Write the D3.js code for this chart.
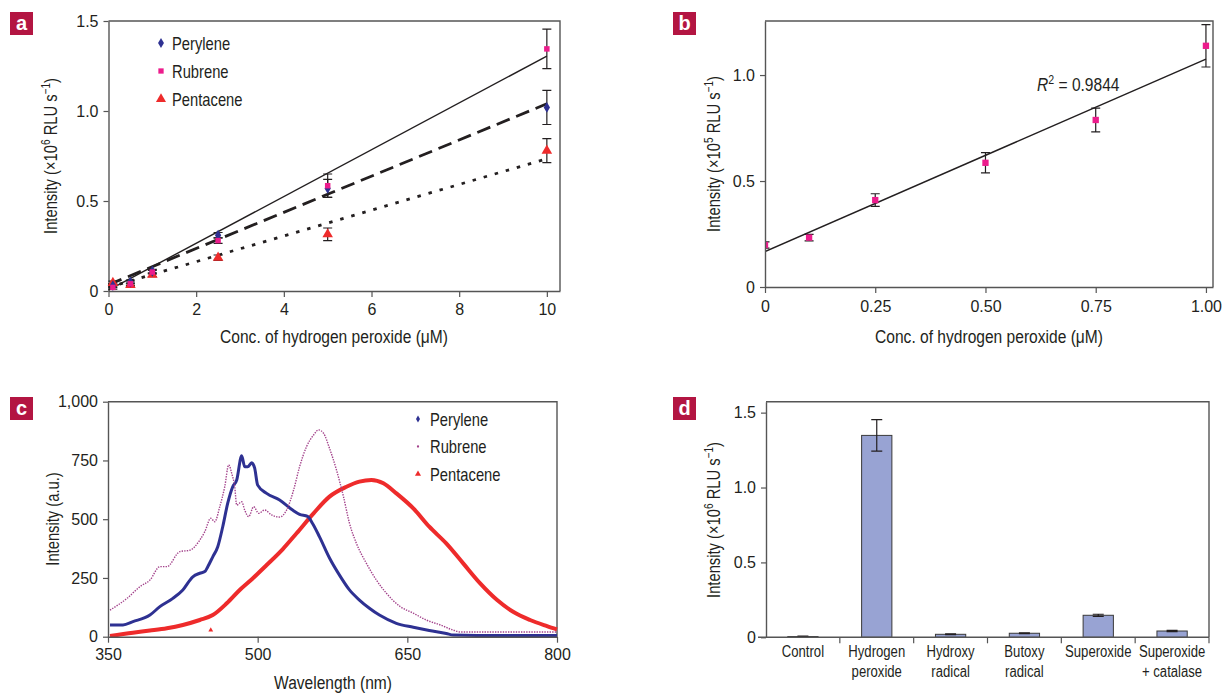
<!DOCTYPE html>
<html>
<head>
<meta charset="utf-8">
<script src="https://cdn.jsdelivr.net/npm/d3@7"></script>
<style>
body { margin: 0; background: #fff; }
text { fill: #231f20; font-family: "Liberation Sans", Arial, sans-serif; }
</style>
</head>
<body>
<div id="chart"></div>
<script>
// ---------- panel a : intensity vs H2O2 ----------
var concA = [0.1, 0.5, 1, 2.5, 5, 10];
var peryleneA = [0.03, 0.05, 0.11, 0.31, 0.57, 1.02];
var rubreneA = [0.02, 0.04, 0.105, 0.28, 0.585, 1.345];
var pentaceneA = [0.045, 0.033, 0.09, 0.185, 0.315, 0.78];
var peryleneErrA = [0.01, 0.01, 0.01, 0.015, 0.05, 0.095];
var rubreneErrA = [0.01, 0.01, 0.01, 0.015, 0.065, 0.11];
var pentaceneErrA = [0.01, 0.01, 0.01, 0.015, 0.035, 0.067];
var rubreneFitA = [[0, 0.005], [10, 1.305]];
var peryleneFitA = [[0, 0.035], [10, 1.04]];
var pentaceneFitA = [[0, 0.02], [10, 0.735]];
var ticksAx = [0, 2, 4, 6, 8, 10];
var ticksAy = [0, 0.5, 1.0, 1.5];
var labelsAy = ["0", "0.5", "1.0", "1.5"];

// ---------- panel b : low concentration rubrene ----------
var concB = [0, 0.1, 0.25, 0.5, 0.75, 1.0];
var rubreneB = [0.198, 0.233, 0.41, 0.586, 0.788, 1.138];
var errB = [0.015, 0.015, 0.03, 0.048, 0.056, 0.1];
var fitB = [[0, 0.167], [1.0, 1.075]];
var ticksBx = [0, 0.25, 0.5, 0.75, 1.0];
var labelsBx = ["0", "0.25", "0.50", "0.75", "1.00"];
var ticksBy = [0, 0.5, 1.0];
var labelsBy = ["0", "0.5", "1.0"];

// ---------- panel c : emission spectra ----------
var perylWl = [352, 365, 375, 392, 402, 415, 425, 435, 442, 447, 450, 455, 460, 465, 470, 475, 479, 484, 487, 490, 494, 497, 500, 509, 522, 535, 542, 550, 555, 562, 572, 582, 592, 602, 612, 622, 639, 656, 672, 689, 696, 720, 800];
var perylInt = [50, 50, 64, 92, 128, 163, 199, 255, 270, 277, 298, 340, 383, 468, 568, 638, 667, 770, 723, 723, 740, 717, 645, 610, 582, 539, 521, 512, 482, 425, 335, 262, 199, 156, 121, 92, 57, 40, 26, 14, 7, 5, 5];
var rubWl = [352, 369, 382, 392, 402, 409, 422, 432, 442, 447, 453, 457, 462, 467, 471, 474, 477, 479, 484, 487, 491, 496, 501, 507, 514, 522, 529, 536, 542, 549, 556, 561, 566, 572, 579, 586, 592, 599, 609, 619, 629, 643, 656, 669, 683, 696, 703, 750, 800];
var rubInt = [113, 163, 213, 241, 298, 298, 362, 368, 411, 447, 504, 489, 553, 638, 731, 695, 638, 560, 574, 539, 511, 553, 525, 539, 518, 509, 539, 624, 723, 809, 858, 880, 866, 802, 709, 596, 483, 397, 312, 241, 185, 128, 100, 71, 50, 28, 20, 20, 20];
var pentWl = [352, 375, 392, 409, 425, 442, 455, 469, 482, 495, 509, 525, 539, 556, 572, 589, 602, 614, 626, 639, 656, 672, 689, 706, 723, 740, 756, 773, 790, 800];
var pentInt = [3, 17, 26, 36, 50, 71, 92, 142, 199, 248, 305, 372, 440, 525, 596, 638, 660, 667, 653, 610, 546, 468, 397, 312, 227, 156, 106, 71, 45, 31];
var pentStray = [[453, 28]];
var ticksCx = [350, 500, 650, 800];
var ticksCy = [0, 250, 500, 750, 1000];
var labelsCy = ["0", "250", "500", "750", "1,000"];

// ---------- panel d : selectivity ----------
var speciesD = [["Control"], ["Hydrogen", "peroxide"], ["Hydroxy", "radical"], ["Butoxy", "radical"], ["Superoxide"], ["Superoxide", "+ catalase"]];
var valuesD = [0.005, 1.348, 0.02, 0.027, 0.147, 0.042];
var errD = [0.003, 0.105, 0.003, 0.002, 0.007, 0.004];
var ticksDy = [0, 0.5, 1.0, 1.5];
var labelsDy = ["0", "0.5", "1.0", "1.5"];

var colPerylene = "#2e3192",
	colRubrene = "#ec1c8c",
	colRubreneSpec = "#a3428b",
	colPentacene = "#ee2b2b",
	colAxis = "#555",
	colBar = "#98a3d3",
	colLetter = "#b31542",
	squeeze = 0.82;

var svg = d3.select("#chart").append("svg")
	.attr("width", 1223)
	.attr("height", 693);

////////////////////////////////////
//////////// HELPERS ///////////////
////////////////////////////////////

function panelLetter(x, y, letter) {
	svg.append("rect").attr("x", x).attr("y", y).attr("width", 23).attr("height", 23).attr("fill", colLetter);
	svg.append("text").attr("x", x + 11.5).attr("y", y + 18)
		.attr("text-anchor", "middle")
		.attr("font-weight", "bold").attr("font-size", 20)
		.style("fill", "#fff").text(letter);
}

// condensed text: normal font squeezed horizontally
function narrowText(parent, x, y, str, size, anchor, rotate) {
	return parent.append("text")
		.attr("font-size", size)
		.attr("text-anchor", anchor || "start")
		.attr("transform", "translate(" + x + "," + y + ")" + (rotate ? " rotate(-90)" : "") + " scale(" + squeeze + ",1)")
		.text(str);
}

function styleAxis(g) {
	g.select(".domain").attr("stroke", colAxis).attr("stroke-width", 1.4);
	g.selectAll(".tick line").attr("stroke", colAxis).attr("stroke-width", 1.2);
	g.selectAll(".tick text").attr("font-size", 16).attr("fill", "#231f20");
}

function frame(x0, x1, y0, y1) {
	svg.append("path")
		.attr("d", "M" + x0 + "," + y0 + "H" + x1 + "V" + y1)
		.attr("fill", "none").attr("stroke", colAxis).attr("stroke-width", 1.4);
}

// parts: [text, isSuperscript]
function supText(x, y, rotate, parts, size, anchor, italicFirst) {
	var t = narrowText(svg, x, y, null, size, anchor || "middle", rotate);
	var up = false;
	parts.forEach(function(p, i) {
		var ts = t.append("tspan").text(p[0]);
		if (p[1]) {
			ts.attr("font-size", size * 0.68).attr("dy", up ? 0 : -size * 0.38);
			up = true;
		} else {
			ts.attr("dy", up ? size * 0.38 : 0);
			up = false;
		}
		if (italicFirst && i === 0) ts.attr("font-style", "italic");
	});
	return t;
}

function intensityLabel(x, y, power) {
	supText(x, y, true, [["Intensity (\u00d710", 0], [power, 1], [" RLU s", 0], ["\u22121", 1], [")", 0]], 18);
}

function errorBars(g, xs, ys, errs, xScale, yScale, cap) {
	xs.forEach(function(xv, i) {
		var cx = xScale(xv), top = yScale(ys[i] + errs[i]), bot = yScale(ys[i] - errs[i]);
		g.append("path")
			.attr("d", "M" + cx + "," + top + "V" + bot +
				"M" + (cx - cap) + "," + top + "H" + (cx + cap) +
				"M" + (cx - cap) + "," + bot + "H" + (cx + cap))
			.attr("stroke", "#231f20").attr("stroke-width", 1.2).attr("fill", "none");
	});
}

function markers(g, xs, ys, xScale, yScale, type, size, color) {
	var sym = d3.symbol().type(type).size(size);
	xs.forEach(function(xv, i) {
		g.append("path").attr("d", sym())
			.attr("transform", "translate(" + xScale(xv) + "," + yScale(ys[i]) + ")")
			.attr("fill", color);
	});
}

////////////////////////////////////
//////////// PANEL A ///////////////
////////////////////////////////////

function drawPanelA() {
	var x = d3.scaleLinear().domain([0, 10.3]).range([108.5, 560]);
	var y = d3.scaleLinear().domain([0, 1.5]).range([291, 21]);

	frame(108.5, 560, 21, 291);
	svg.append("g").attr("transform", "translate(0,291)")
		.call(d3.axisBottom(x).tickValues(ticksAx).tickSize(6).tickPadding(7).tickSizeOuter(0))
		.call(styleAxis);
	svg.append("g").attr("transform", "translate(108.5,0)")
		.call(d3.axisLeft(y).tickValues(ticksAy).tickFormat(function(d, i) { return labelsAy[i]; }).tickSize(5).tickPadding(5).tickSizeOuter(0))
		.call(styleAxis);

	var line = d3.line().x(function(d) { return x(d[0]); }).y(function(d) { return y(d[1]); });
	var g = svg.append("g");
	g.append("path").attr("d", line(rubreneFitA)).attr("stroke", "#231f20").attr("stroke-width", 1.4).attr("fill", "none");
	g.append("path").attr("d", line(peryleneFitA)).attr("stroke", "#231f20").attr("stroke-width", 2.8).attr("stroke-dasharray", "14,7").attr("fill", "none");
	g.append("path").attr("d", line(pentaceneFitA)).attr("stroke", "#231f20").attr("stroke-width", 2.8).attr("stroke-dasharray", "3.5,8").attr("fill", "none");

	errorBars(g, concA, peryleneA, peryleneErrA, x, y, 4.5);
	errorBars(g, concA, rubreneA, rubreneErrA, x, y, 4.5);
	errorBars(g, concA, pentaceneA, pentaceneErrA, x, y, 4.5);
	markers(g, concA, pentaceneA, x, y, d3.symbolTriangle, 48, colPentacene);
	markers(g, concA, peryleneA, x, y, d3.symbolDiamond, 34, colPerylene);
	markers(g, concA, rubreneA, x, y, d3.symbolSquare, 30, colRubrene);

	// legend
	var leg = [["Perylene", d3.symbolDiamond, 30, colPerylene], ["Rubrene", d3.symbolSquare, 28, colRubrene], ["Pentacene", d3.symbolTriangle, 44, colPentacene]];
	leg.forEach(function(l, i) {
		var ly = 43 + i * 28;
		svg.append("path").attr("d", d3.symbol().type(l[1]).size(l[2])()).attr("transform", "translate(161," + ly + ")").attr("fill", l[3]);
		narrowText(svg, 172, ly + 6.5, l[0], 18);
	});

	intensityLabel(57, 156, "6");
	narrowText(svg, 334, 343, "Conc. of hydrogen peroxide (\u03bcM)", 19, "middle");
	panelLetter(10, 12, "a");
}

////////////////////////////////////
//////////// PANEL B ///////////////
////////////////////////////////////

function drawPanelB() {
	var x = d3.scaleLinear().domain([0, 1.016]).range([765, 1213]);
	var y = d3.scaleLinear().domain([0, 1.255]).range([287, 21]);

	svg.append("clipPath").attr("id", "clipB").append("rect").attr("x", 765).attr("y", 15).attr("width", 455).attr("height", 272);

	var g = svg.append("g").attr("clip-path", "url(#clipB)");
	var line = d3.line().x(function(d) { return x(d[0]); }).y(function(d) { return y(d[1]); });
	g.append("path").attr("d", line(fitB)).attr("stroke", "#231f20").attr("stroke-width", 1.5).attr("fill", "none");
	errorBars(g, concB, rubreneB, errB, x, y, 4.5);
	markers(g, concB, rubreneB, x, y, d3.symbolSquare, 40, colRubrene);

	frame(765, 1213, 21, 287);
	svg.append("g").attr("transform", "translate(0,287)")
		.call(d3.axisBottom(x).tickValues(ticksBx).tickFormat(function(d, i) { return labelsBx[i]; }).tickSize(6).tickPadding(8).tickSizeOuter(0))
		.call(styleAxis);
	svg.append("g").attr("transform", "translate(765,0)")
		.call(d3.axisLeft(y).tickValues(ticksBy).tickFormat(function(d, i) { return labelsBy[i]; }).tickSize(5).tickPadding(5).tickSizeOuter(0))
		.call(styleAxis);

	supText(1037, 91, false, [["R", 0], ["2", 1], [" = 0.9844", 0]], 19, "start", true);

	intensityLabel(720, 154, "5");
	narrowText(svg, 989, 343, "Conc. of hydrogen peroxide (\u03bcM)", 19, "middle");
	panelLetter(673, 12, "b");
}

////////////////////////////////////
//////////// PANEL C ///////////////
////////////////////////////////////

function drawPanelC() {
	var x = d3.scaleLinear().domain([350, 800]).range([108, 557]);
	var y = d3.scaleLinear().domain([0, 1000]).range([636.7, 401.7]);

	frame(108, 557, 401.7, 636.7);

	var line = function(wl, vals) {
		return d3.line().curve(d3.curveMonotoneX)
			.x(function(d, i) { return x(wl[i]); })
			.y(function(d) { return y(d); })(vals);
	};
	var g = svg.append("g");
	g.append("path").attr("d", line(pentWl, pentInt)).attr("stroke", colPentacene).attr("stroke-width", 4).attr("fill", "none");
	g.append("path").attr("d", line(perylWl, perylInt)).attr("stroke", colPerylene).attr("stroke-width", 3).attr("fill", "none");
	g.append("path").attr("d", line(rubWl, rubInt)).attr("stroke", colRubreneSpec).attr("stroke-width", 1.4).attr("fill", "none").attr("stroke-dasharray", "1.4,1.2");
	pentStray.forEach(function(p) {
		g.append("path").attr("d", d3.symbol().type(d3.symbolTriangle).size(10)())
			.attr("transform", "translate(" + x(p[0]) + "," + y(p[1]) + ")").attr("fill", colPentacene);
	});

	svg.append("g").attr("transform", "translate(0,636.7)")
		.call(d3.axisBottom(x).tickValues(ticksCx).tickSize(6).tickPadding(6).tickSizeOuter(0))
		.call(styleAxis);
	svg.append("g").attr("transform", "translate(108,0)")
		.call(d3.axisLeft(y).tickValues(ticksCy).tickFormat(function(d, i) { return labelsCy[i]; }).tickSize(5).tickPadding(5).tickSizeOuter(0))
		.call(styleAxis);

	var leg = [["Perylene", d3.symbolDiamond, 14, colPerylene], ["Rubrene", d3.symbolCircle, 4, colRubreneSpec], ["Pentacene", d3.symbolTriangle, 16, colPentacene]];
	leg.forEach(function(l, i) {
		var ly = 419 + i * 27.5;
		svg.append("path").attr("d", d3.symbol().type(l[1]).size(l[2])()).attr("transform", "translate(418," + ly + ")").attr("fill", l[3]);
		narrowText(svg, 430, ly + 6.5, l[0], 18);
	});

	narrowText(svg, 59, 519, "Intensity (a.u.)", 18, "middle", true);
	narrowText(svg, 333, 689, "Wavelength (nm)", 19, "middle");
	panelLetter(10, 397, "c");
}

////////////////////////////////////
//////////// PANEL D ///////////////
////////////////////////////////////

function drawPanelD() {
	var names = speciesD.map(function(s) { return s.join(" "); });
	var x = d3.scaleBand().domain(names).range([766, 1209]).padding(0);
	var y = d3.scaleLinear().domain([0, 1.573]).range([637.3, 401.7]);
	var bw = x.bandwidth() * 0.41;
	var xc = function(n) { return x(n) + x.bandwidth() / 2; };

	frame(766, 1209, 401.7, 637.3);

	var g = svg.append("g");
	names.forEach(function(n, i) {
		g.append("rect")
			.attr("x", xc(n) - bw / 2).attr("y", y(valuesD[i]))
			.attr("width", bw).attr("height", y(0) - y(valuesD[i]))
			.attr("fill", colBar).attr("stroke", "#3a3a3a").attr("stroke-width", 1);
	});
	errorBars(g, names, valuesD, errD, xc, y, 5.5);

	// x axis line with ticks at category boundaries
	var gx = svg.append("g").attr("transform", "translate(0,637.3)");
	gx.append("path").attr("d", "M758,0H1209").attr("stroke", colAxis).attr("stroke-width", 1.4);
	names.slice(1).concat(["end"]).forEach(function(n) {
		var bx = n === "end" ? x.range()[1] : x(n);
		gx.append("line").attr("x1", bx).attr("x2", bx).attr("y1", 0).attr("y2", 6).attr("stroke", colAxis).attr("stroke-width", 1.2);
	});
	speciesD.forEach(function(s, i) {
		s.forEach(function(line, j) {
			narrowText(gx, xc(names[i]), 20 + j * 19.5, line, 16, "middle");
		});
	});

	svg.append("g").attr("transform", "translate(766,0)")
		.call(d3.axisLeft(y).tickValues(ticksDy).tickFormat(function(d, i) { return labelsDy[i]; }).tickSize(5).tickPadding(5).tickSizeOuter(0))
		.call(styleAxis);

	intensityLabel(720, 520, "6");
	panelLetter(673, 397, "d");
}

drawPanelA();
drawPanelB();
drawPanelC();
drawPanelD();
</script>
</body>
</html>
